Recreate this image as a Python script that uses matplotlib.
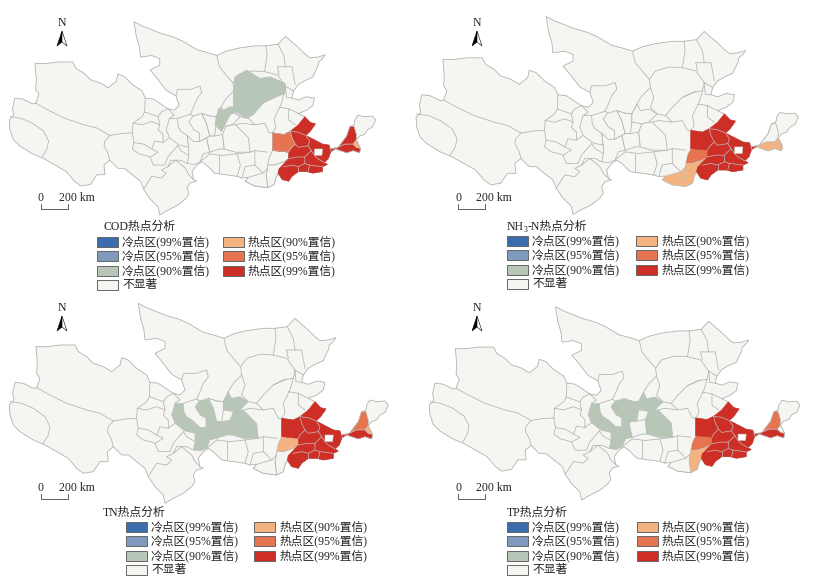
import matplotlib
matplotlib.use("Agg")
import matplotlib.pyplot as plt
from matplotlib.patches import Rectangle

plt.rcParams["font.family"] = ["Liberation Serif", "Noto Sans CJK SC"]

# map geometry, traced in one common coordinate frame
OUTLINE = [
    (415,25),(440,38),(470,50),(500,62),(535,72),(565,85),(590,100),(610,112),(640,120),(672,130),
    (700,117),(740,107),(790,100),(825,100),(862,95),(885,70),(905,88),(925,105),(945,125),(960,137),
    (985,135),(995,132),(1008,128),(1000,140),(988,150),(985,165),(975,185),(970,197),(945,208),(925,220),
    (910,240),(905,262),(925,268),(950,258),(975,262),(970,285),(950,300),(925,310),(945,320),(962,338),
    (978,342),(962,365),(948,378),(975,392),(1000,405),(1020,408),(1025,420),(1048,415),(1060,400),(1075,380),
    (1085,350),(1098,345),(1100,330),(1110,315),(1130,320),(1155,318),(1165,330),(1155,352),(1140,360),(1130,375),
    (1115,380),(1105,392),(1118,418),(1115,432),(1095,425),(1075,432),(1055,425),(1040,420),(1025,430),(1018,450),
    (1005,462),(1015,468),(1000,475),(1000,490),(970,495),(950,490),(925,490),(905,505),(895,520),(875,515),
    (862,495),(855,510),(850,530),(830,540),(790,535),(760,520),(770,508),(750,510),(735,505),(700,500),
    (665,495),(640,470),(625,460),(610,470),(595,490),(600,515),(610,520),(590,525),(580,540),(585,560),
    (575,575),(550,595),(520,610),(495,625),(490,600),(465,575),(445,545),(435,520),(410,500),(385,480),
    (365,480),(340,455),(322,470),(325,500),(300,500),(280,530),(250,535),(230,520),(205,490),(170,470),
    (135,450),(100,435),(60,410),(40,390),(30,360),(28,330),(42,315),(38,295),(45,262),(70,265),
    (100,280),(110,278),(120,250),(110,235),(112,205),(108,155),(140,155),(180,150),(225,150),(235,170),
    (260,185),(280,205),(310,215),(335,230),(360,210),(365,188),(385,195),(410,220),(440,240),(450,262),
    (475,265),(505,285),(520,295),(540,300),(555,285),(545,255),(515,238),(490,205),(465,175),(495,160),
    (495,140),(470,130),(435,135),(432,105),(422,70),
]

BORDERS = [
    [(110,278),(150,300),(200,325),(260,345),(300,355),(340,378),(375,372),(410,370),(412,340),(440,320),(448,305),(450,262)],
    [(30,320),(65,325),(100,340),(135,365),(150,395),(145,420),(130,445)],
    [(340,378),(325,395),(322,410),(335,435),(340,455)],
    [(410,370),(415,400),(410,420),(430,435),(450,440),(465,445)],
    [(448,305),(490,320),(500,305),(520,295)],
    [(490,320),(495,345),(490,360),(505,375),(505,400),(480,395),(470,420),(490,430),(465,445),(475,470),(510,470),(520,445),(550,410)],
    [(412,340),(440,345),(470,335),(495,345)],
    [(470,420),(445,405),(415,400)],
    [(505,400),(525,385)],
    [(520,295),(540,315),(525,325)],
    [(545,255),(550,235),(590,235),(620,225),(625,245),(610,265),(600,290),(590,312),(598,318)],
    [(550,325),(590,312)],
    [(672,130),(680,165),(700,190),(722,215),(725,240),(700,265),(685,290),(670,320),(650,318),(625,310)],
    [(722,215),(740,190),(780,178),(820,180),(860,190),(885,225),(880,250),(850,255),(820,270),(790,300),(770,325),(745,320),(725,300),(735,270),(725,240)],
    [(825,100),(828,130),(820,180)],
    [(862,95),(880,130),(885,165)],
    [(860,165),(905,165),(915,220)],
    [(860,165),(865,190)],
    [(885,225),(910,240)],
    [(885,225),(888,260),(905,262)],
    [(880,250),(870,285),(850,325),(855,355),(845,370)],
    [(865,290),(895,295),(925,310)],
    [(895,295),(895,330),(915,345)],
    [(820,270),(860,252)],
    [(770,325),(790,345),(750,340),(730,345)],
    [(790,345),(820,340),(835,370),(845,370)],
    [(775,430),(790,425),(830,430)],
    [(650,435),(690,440),(735,435),(745,470),(735,505)],
    [(680,440),(680,495)],
    [(790,425),(790,470),(760,475),(750,510)],
    [(790,470),(815,495)],
    [(735,435),(775,430)],
    [(580,465),(560,455),(530,455),(520,475),(500,485),(515,495),(500,510),(470,505),(445,545)],
    [(520,475),(545,455),(575,480),(585,500),(600,515)],
    [(550,410),(560,425),(585,440)],
    [(620,460),(650,435)],
]

# regions that carry a hot or cold class in at least one panel
REGIONS = {
    "g_a": [(525,325),(550,325),(552,350),(560,365),(580,378),(585,415),(555,408),(525,385),(515,360)],
    "g_b": [(580,378),(600,397),(618,397),(640,385),(650,430),(630,435),(620,460),(600,468),(580,465),(585,440),(585,415)],
    "g_c": [(598,318),(625,310),(640,340),(650,380),(640,385),(618,397),(618,370),(600,360),(585,335)],
    "g_d": [(625,310),(650,318),(670,320),(670,345),(665,380),(650,380),(640,340)],
    "g_e": [(670,320),(685,290),(695,310),(720,305),(745,320),(720,345),(700,350),(670,345)],
    "g_f": [(650,380),(665,380),(690,375),(695,420),(680,420),(650,430),(640,385)],
    "g_g": [(700,350),(720,345),(730,345),(770,385),(775,430),(730,430),(695,420),(690,375)],
    "h2": [(845,370),(880,375),(900,365),(905,385),(915,405),(900,420),(895,430),(860,425),(845,425)],
    "o": [(845,425),(860,425),(895,430),(895,450),(880,460),(850,470),(830,470),(835,445)],
    "p": [(830,470),(850,470),(880,460),(895,458),(865,482),(862,495),(855,510),(850,530),(830,540),(825,500)],
    "q": [(760,520),(770,508),(815,495),(830,480),(825,500),(830,540),(790,535)],
    "s_link": [(1025,420),(1048,415),(1040,420),(1025,430)],
    "s_n": [(1048,415),(1060,400),(1075,380),(1085,350),(1098,350),(1105,375),(1105,392),(1095,405),(1070,405)],
    "s_c": [(1095,405),(1105,392),(1118,418),(1105,415)],
    "s_s": [(1048,415),(1070,405),(1095,405),(1105,415),(1118,418),(1115,432),(1095,425),(1075,432),(1055,425),(1040,420)],
    "ordos": [(728,196),(765,175),(806,201),(837,196),(884,216),(884,247),(858,258),(816,278),(785,314),(759,325),(734,304),(723,290),(723,247)],
    "wuzhong": [(692,299),(713,289),(723,290),(734,304),(713,314),(700,340),(687,366),(666,346),(677,294)],
}
ONLY_IF_COLORED = ["ordos", "wuzhong"]

# the red block in the east is the same in all four panels
RED_BLOCK = [
    (845,370),(880,375),(900,365),(925,345),(945,320),(962,338),(978,342),(962,365),(948,378),(975,392),
    (1000,405),(1020,408),(1025,430),(1018,450),(1005,462),(1015,468),(1000,475),(1000,490),(970,495),(950,490),
    (925,490),(905,505),(895,520),(875,515),(862,495),(865,482),(895,450),(895,430),(845,425),
]
RED_HOLE = [(975,420),(1000,420),(998,440),(975,440)]
RED_LINES = [
    [(900,365),(905,385),(915,405),(900,420),(895,430)],
    [(900,365),(925,368),(948,378),(960,395),(955,410),(925,415),(915,405)],
    [(955,410),(965,425),(945,445),(920,445),(895,450)],
    [(945,445),(945,465),(925,475),(905,470),(880,475)],
    [(925,475),(925,490)],
    [(945,465),(960,470),(955,490)],
    [(960,470),(1000,475)],
    [(965,425),(975,440),(985,450),(1005,462)],
]

COD_CLASSES = {"ordos": "c90", "wuzhong": "c90", "h2": "h95", "s_link": "h99", "s_n": "h99", "s_s": "h99", "s_c": "h90"}
NH3_CLASSES = {"h2": "h99", "o": "h95", "q": "h90", "p": "h90", "s_link": "h99", "s_s": "h90", "s_c": "h90"}
TN_CLASSES = {"g_a": "c90", "g_b": "c90", "g_c": "c90", "g_e": "c90", "g_f": "c90", "g_g": "c90",
              "h2": "h99", "o": "h90", "s_link": "h99", "s_n": "h95", "s_s": "h99", "s_c": "h90"}
TP_CLASSES = {"g_a": "c90", "g_b": "c90", "g_c": "c90", "g_d": "c90", "g_e": "c90", "g_g": "c90",
              "h2": "h99", "o": "h95", "p": "h90", "s_link": "h99", "s_n": "h95", "s_s": "h99"}

COLORS = {"c99": "#3b6cae", "c95": "#7f9abd", "c90": "#b8c6b8", "ns": "#f5f6f1",
          "h90": "#f3b27f", "h95": "#e77450", "h99": "#cd2e26"}

LEGEND_LEFT = [("c99", "冷点区(99%置信)"), ("c95", "冷点区(95%置信)"), ("c90", "冷点区(90%置信)"), ("ns", "不显著")]
LEGEND_RIGHT = [("h90", "热点区(90%置信)"), ("h95", "热点区(95%置信)"), ("h99", "热点区(99%置信)")]
SCALE_TEXT = "200 km"

# (classes, x scale, x shift, y scale, y shift, north x, north y, scale x, scale y, title x, title y,
#  swatch col 1, swatch col 2, first legend row)
PANELS = [
    (COD_CLASSES, 0.3223, 0.23, 0.3223, 13.6, 62, 23, 41, 198, 104, 227, 97, 223, 242, "COD"),
    (NH3_CLASSES, 0.3363, 406.6, 0.33, 8.3, 477, 23, 458, 198, 507, 227, 507, 636, 241, "NH3"),
    (TN_CLASSES, 0.3333, 0.0, 0.3333, 295.0, 62, 308, 41, 488, 103, 513, 126, 254, 527, "TN"),
    (TP_CLASSES, 0.326, 420.2, 0.3223, 298.7, 477, 308, 458, 488, 507, 513, 507, 637, 527, "TP"),
]

FS = 8.5
LINE = "#b2b2b2"
INNER = "#c0c0bc"


def to_px(points, sx, dx, sy, dy):
    xs = [p[0] * sx + dx for p in points]
    ys = [p[1] * sy + dy for p in points]
    return xs, ys


def draw_map(ax, classes, sx, dx, sy, dy):
    xs, ys = to_px(OUTLINE, sx, dx, sy, dy)
    ax.fill(xs, ys, facecolor=COLORS["ns"], edgecolor=LINE, linewidth=0.6, zorder=1)
    for line in BORDERS:
        xs, ys = to_px(line, sx, dx, sy, dy)
        ax.plot(xs, ys, color=LINE, linewidth=0.55, zorder=2)
    for name, points in REGIONS.items():
        if name in classes or name in ONLY_IF_COLORED:
            continue
        xs, ys = to_px(points, sx, dx, sy, dy)
        ax.fill(xs, ys, facecolor=COLORS["ns"], edgecolor=LINE, linewidth=0.55, zorder=2)
    for name, cls in classes.items():
        xs, ys = to_px(REGIONS[name], sx, dx, sy, dy)
        ax.fill(xs, ys, facecolor=COLORS[cls], edgecolor=INNER, linewidth=0.45, zorder=3)
    xs, ys = to_px(RED_BLOCK, sx, dx, sy, dy)
    ax.fill(xs, ys, facecolor=COLORS["h99"], edgecolor=COLORS["h99"], linewidth=0.4, zorder=3)
    xs, ys = to_px(RED_HOLE, sx, dx, sy, dy)
    ax.fill(xs, ys, facecolor="white", edgecolor=INNER, linewidth=0.4, zorder=4)
    for line in RED_LINES:
        xs, ys = to_px(line, sx, dx, sy, dy)
        ax.plot(xs, ys, color=INNER, linewidth=0.5, zorder=4)
    # h2 sits next to the block and has to stay on top of it
    if classes["h2"] != "h99":
        xs, ys = to_px(REGIONS["h2"], sx, dx, sy, dy)
        ax.fill(xs, ys, facecolor=COLORS[classes["h2"]], edgecolor=INNER, linewidth=0.45, zorder=4)


def draw_north(ax, x, y):
    ax.text(x, y, "N", fontsize=8.5, ha="center", va="center", color="#222222")
    ax.fill([x, x - 5, x, x], [y + 8, y + 23, y + 19, y + 8], color="black", linewidth=0.4, zorder=4)
    ax.fill([x, x + 5, x, x], [y + 8, y + 23, y + 19, y + 8], facecolor="white", edgecolor="black", linewidth=0.4, zorder=4)


def draw_scale(ax, x, y):
    ax.text(x, y, "0", fontsize=FS, ha="center", va="center", color="#222222")
    ax.text(x + 18, y, SCALE_TEXT, fontsize=FS, ha="left", va="center", color="#222222")
    ax.plot([x, x, x + 27, x + 27], [y + 6, y + 11, y + 11, y + 6], color="#444444", linewidth=0.6)


def draw_legend(ax, name, tx, ty, col1, col2, row0):
    if name == "NH3":
        ax.text(tx, ty, "NH", fontsize=FS, ha="left", va="center", color="#222222")
        ax.text(tx + 17, ty + 3, "3", fontsize=5.5, ha="left", va="center", color="#222222")
        ax.text(tx + 21, ty, "-N热点分析", fontsize=FS, ha="left", va="center", color="#222222")
    else:
        ax.text(tx, ty, name + "热点分析", fontsize=FS, ha="left", va="center", color="#222222")
    for col, rows in ((col1, LEGEND_LEFT), (col2, LEGEND_RIGHT)):
        for i, (cls, label) in enumerate(rows):
            y = row0 + i * 14.3
            ax.add_patch(Rectangle((col, y - 5), 21, 10, facecolor=COLORS[cls], edgecolor="#666666", linewidth=0.7))
            ax.text(col + 25, y, label, fontsize=FS, ha="left", va="center", color="#222222")


fig = plt.figure(figsize=(8.21, 5.82), dpi=100)
ax = fig.add_axes([0, 0, 1, 1])
ax.set_xlim(0, 821)
ax.set_ylim(582, 0)
ax.axis("off")

for classes, sx, dx, sy, dy, nx, ny, bx, by, tx, ty, col1, col2, row0, name in PANELS:
    draw_map(ax, classes, sx, dx, sy, dy)
    draw_north(ax, nx, ny)
    draw_scale(ax, bx, by)
    draw_legend(ax, name, tx, ty, col1, col2, row0)

fig.savefig("out.png", dpi=100)
plt.close(fig)
